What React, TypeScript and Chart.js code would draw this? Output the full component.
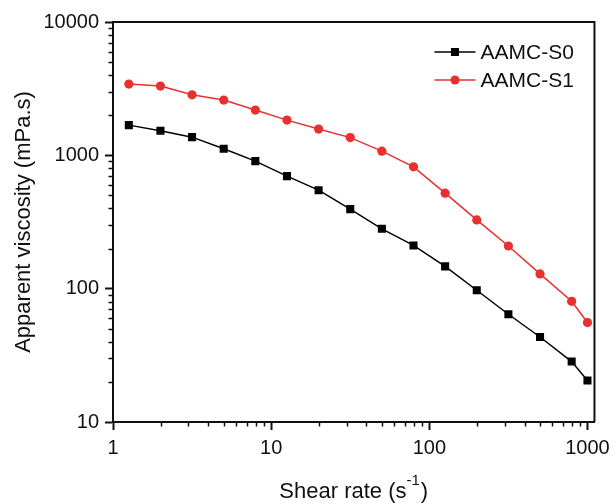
import React, { useEffect, useRef } from "react";
import { Chart, registerables } from "chart.js";

Chart.register(...registerables);

const shearRate = [1.259, 1.995, 3.162, 5.012, 7.943, 12.59, 19.95, 31.62, 50.12, 79.43, 125.9, 199.5, 316.2, 501.2, 794.3, 1000];
const aamcS0 = [1685, 1528, 1369, 1119, 905, 698, 548, 395, 281, 211, 147, 97.3, 64.3, 43.4, 28.4, 20.5];
const aamcS1 = [3424, 3307, 2845, 2597, 2185, 1837, 1574, 1358, 1075, 820, 520, 328, 209, 129, 80.4, 55.7];
const seriesNames = ["AAMC-S0", "AAMC-S1"];
const xTickValues = [1, 2, 3, 4, 5, 6, 7, 8, 9, 10, 20, 30, 40, 50, 60, 70, 80, 90, 100, 200, 300, 400, 500, 600, 700, 800, 900, 1000];
const yTickValues = [10, 20, 30, 40, 50, 60, 70, 80, 90, 100, 200, 300, 400, 500, 600, 700, 800, 900, 1000, 2000, 3000, 4000, 5000, 6000, 7000, 8000, 9000, 10000];
const xTitle = "Shear rate (s";
const xTitleSup = "-1";
const yTitle = "Apparent viscosity (mPa.s)";

const FONT = "'Liberation Sans', Arial, Helvetica, sans-serif";
const RED = "#E8302F";
const BLACK = "#000000";

const isMajor = (v: number) => Math.abs(Math.log10(v) - Math.round(Math.log10(v))) < 1e-9;

const decorPlugin = {
  id: "decor",
  afterDraw(chart: any) {
    const { ctx, chartArea, scales } = chart;
    const { left, right, top, bottom } = chartArea;
    ctx.save();
    // top and right frame
    ctx.strokeStyle = "#111";
    ctx.lineWidth = 2;
    ctx.beginPath();
    ctx.moveTo(left, top);
    ctx.lineTo(right, top);
    ctx.lineTo(right, bottom);
    ctx.stroke();
    // minor ticks
    ctx.lineWidth = 1.5;
    ctx.beginPath();
    xTickValues.forEach((v) => {
      if (isMajor(v)) return;
      const px = Math.round(scales.x.getPixelForValue(v)) + 0.5;
      ctx.moveTo(px, bottom);
      ctx.lineTo(px, bottom + 4.5);
    });
    yTickValues.forEach((v) => {
      if (isMajor(v)) return;
      const py = Math.round(scales.y.getPixelForValue(v)) + 0.5;
      ctx.moveTo(left, py);
      ctx.lineTo(left - 4.5, py);
    });
    ctx.stroke();

    // titles
    ctx.fillStyle = "#111";
    ctx.textBaseline = "alphabetic";
    ctx.font = `22px ${FONT}`;
    const w1 = ctx.measureText(xTitle).width;
    ctx.font = `15px ${FONT}`;
    const wSup = ctx.measureText(xTitleSup).width;
    ctx.font = `22px ${FONT}`;
    const wClose = ctx.measureText(")").width;
    const total = w1 + wSup + wClose + 1;
    const cx = (left + right) / 2;
    const x0 = cx - total / 2;
    const baseY = 498;
    ctx.textAlign = "left";
    ctx.fillText(xTitle, x0, baseY);
    ctx.font = `15px ${FONT}`;
    ctx.fillText(xTitleSup, x0 + w1, baseY - 13);
    ctx.font = `22px ${FONT}`;
    ctx.fillText(")", x0 + w1 + wSup + 1, baseY);

    ctx.save();
    ctx.translate(30, (top + bottom) / 2);
    ctx.rotate(-Math.PI / 2);
    ctx.textAlign = "center";
    ctx.font = `22px ${FONT}`;
    ctx.fillText(yTitle, 0, 0);
    ctx.restore();

    // legend
    const colors = [BLACK, RED];
    chart.data.datasets.forEach((ds: any, i: number) => {
      const y = top + 30 + i * 28;
      const lx0 = right - 160;
      const lx1 = right - 119;
      const mx = (lx0 + lx1) / 2;
      ctx.strokeStyle = colors[i];
      ctx.lineWidth = 1.5;
      ctx.beginPath();
      ctx.moveTo(lx0, y);
      ctx.lineTo(lx1, y);
      ctx.stroke();
      ctx.fillStyle = colors[i];
      if (i === 0) {
        ctx.fillRect(mx - 4, y - 4, 8, 8);
      } else {
        ctx.beginPath();
        ctx.arc(mx, y, 4.5, 0, Math.PI * 2);
        ctx.fill();
      }
      ctx.fillStyle = "#111";
      ctx.font = `21px ${FONT}`;
      ctx.textAlign = "left";
      ctx.textBaseline = "middle";
      ctx.fillText(ds.label, right - 114, y + 1);
    });
    ctx.restore();
  },
};

export default function App() {
  const ref = useRef<HTMLCanvasElement | null>(null);
  useEffect(() => {
    if (!ref.current) return;
    const chart = new Chart(ref.current, {
      type: "line",
      data: {
        datasets: [
          {
            label: seriesNames[0],
            data: shearRate.map((x, i) => ({ x, y: aamcS0[i] })),
            borderColor: BLACK,
            backgroundColor: BLACK,
            borderWidth: 1.5,
            pointStyle: "rect",
            pointRadius: 5.7,
            pointBorderWidth: 0,
            tension: 0,
          },
          {
            label: seriesNames[1],
            data: shearRate.map((x, i) => ({ x, y: aamcS1[i] })),
            borderColor: RED,
            backgroundColor: RED,
            borderWidth: 1.5,
            pointStyle: "circle",
            pointRadius: 4.6,
            pointBorderWidth: 0,
            tension: 0,
          },
        ],
      },
      options: {
        responsive: false,
        animation: false,
        devicePixelRatio: 1,
        layout: { padding: { top: 22, right: 19, left: 0, bottom: 0 } },
        plugins: { legend: { display: false }, tooltip: { enabled: false }, title: { display: false } },
        scales: {
          x: {
            type: "logarithmic",
            min: 1,
            max: 1107,
            afterBuildTicks: (scale: any) => {
              scale.ticks = xTickValues.map((v) => ({ value: v, major: isMajor(v) }));
            },
            afterFit: (scale: any) => {
              scale.height = 82;
            },
            ticks: {
              autoSkip: false,
              maxRotation: 0,
              padding: 6,
              color: "#111",
              font: { family: FONT, size: 20 },
              callback: (v: any) => (isMajor(Number(v)) ? String(Number(v)) : ""),
            },
            grid: {
              display: true,
              drawOnChartArea: false,
              drawTicks: true,
              tickLength: 8,
              tickWidth: 2,
              tickColor: (c: any) => (c.tick && isMajor(c.tick.value) ? "#111" : "rgba(0,0,0,0)"),
            },
            border: { display: true, color: "#111", width: 2 },
          },
          y: {
            type: "logarithmic",
            min: 10,
            max: 10000,
            afterBuildTicks: (scale: any) => {
              scale.ticks = yTickValues.map((v) => ({ value: v, major: isMajor(v) }));
            },
            afterFit: (scale: any) => {
              scale.width = 113;
            },
            ticks: {
              autoSkip: false,
              padding: 6,
              color: "#111",
              font: { family: FONT, size: 20 },
              callback: (v: any) => (isMajor(Number(v)) ? String(Number(v)) : ""),
            },
            grid: {
              display: true,
              drawOnChartArea: false,
              drawTicks: true,
              tickLength: 8,
              tickWidth: 2,
              tickColor: (c: any) => (c.tick && isMajor(c.tick.value) ? "#111" : "rgba(0,0,0,0)"),
            },
            border: { display: true, color: "#111", width: 2 },
          },
        },
      },
      plugins: [decorPlugin],
    });
    return () => chart.destroy();
  }, []);
  return (
    <div style={{ position: "fixed", left: 0, top: 0, width: 616, height: 504, background: "#fff" }}>
      <canvas ref={ref} width={616} height={504} style={{ display: "block" }} />
    </div>
  );
}
